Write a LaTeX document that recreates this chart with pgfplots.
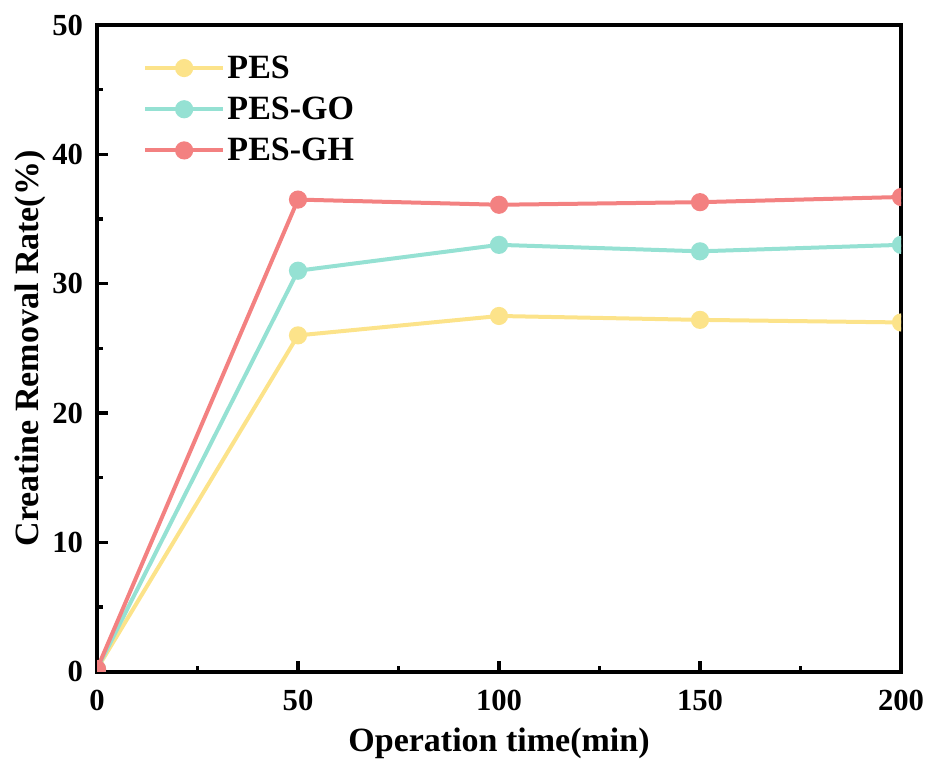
\documentclass[border=0pt]{standalone}
\usepackage{pgfplots}
\pgfplotsset{compat=1.18}
\usepackage{fontspec}
\setmainfont{Liberation Serif}
\definecolor{cpes}{HTML}{FCE38A}
\definecolor{cgo}{HTML}{95E1D3}
\definecolor{cgh}{HTML}{F38181}
\begin{document}
\begin{tikzpicture}
\begin{axis}[
  scale only axis,
  width=603pt, height=485pt,
  xmin=0, xmax=200, ymin=0, ymax=50,
  xtick={0,50,100,150,200},
  ytick={0,10,20,30,40,50},
  minor x tick num=1, minor y tick num=1,
  tick align=inside,
  xtick pos=bottom, ytick pos=left,
  major tick length=8pt, minor tick length=4.5pt,
  axis line style={line width=3pt},
  every tick/.style={line width=2.4pt, black},
  /pgf/number format/assume math mode=true,
  ticklabel style={font=\fontsize{23}{26}\selectfont\bfseries},
  xticklabel style={yshift=-10pt},
  yticklabel style={xshift=-7pt},
  label style={font=\fontsize{25.5}{28}\selectfont\bfseries},
  xlabel={Operation time(min)},
  ylabel={Creatine Removal Rate(\%)},
  xlabel style={yshift=-6pt},
  ylabel style={yshift=-2pt},
  clip=true, clip marker paths=true,
  legend style={draw=none, fill=none, at={(0.0525,0.961)}, anchor=north west,
    font=\fontsize{25.5}{28}\selectfont\bfseries, row sep=8.5pt},
  legend cell align=left,
  legend image code/.code={\draw[mark repeat=2,mark phase=2,#1] plot coordinates {(0pt,0pt) (29pt,0pt) (58pt,0pt)};},
]
\addplot[cpes, line width=3pt, mark=*, mark size=5.3pt, mark options={solid, fill=cpes, draw=cpes}]
  coordinates {(0,0.2) (50,26.0) (100,27.5) (150,27.2) (200,27.0)};
\addlegendentry{PES}
\addplot[cgo, line width=3pt, mark=*, mark size=5.3pt, mark options={solid, fill=cgo, draw=cgo}]
  coordinates {(0,0.2) (50,31.0) (100,33.0) (150,32.5) (200,33.0)};
\addlegendentry{PES-GO}
\addplot[cgh, line width=3pt, mark=*, mark size=5.3pt, mark options={solid, fill=cgh, draw=cgh}]
  coordinates {(0,0.2) (50,36.5) (100,36.1) (150,36.3) (200,36.7)};
\addlegendentry{PES-GH}
\end{axis}
\pgfresetboundingbox
\path ([xshift=-72.75pt, yshift=-66pt]current axis.south west) rectangle ([xshift=21.75pt, yshift=18.75pt]current axis.north east);
\end{tikzpicture}
\end{document}
